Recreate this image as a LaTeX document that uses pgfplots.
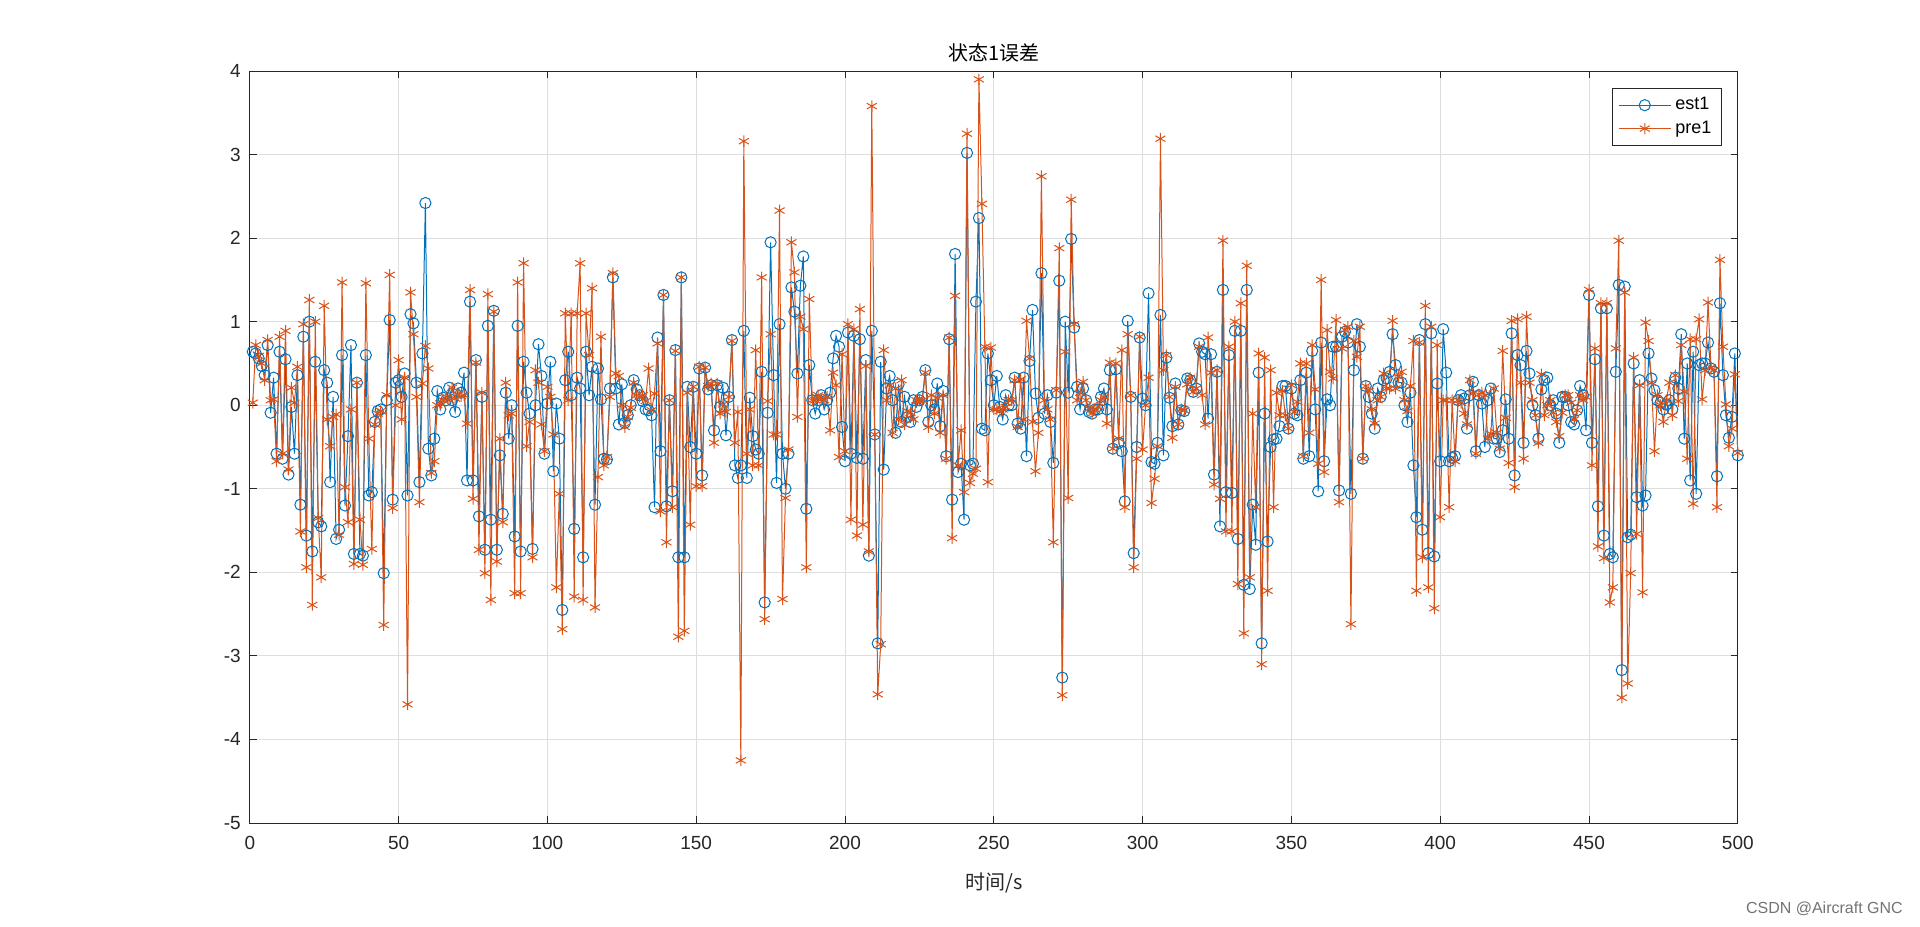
\documentclass[border=0pt]{standalone}
\usepackage{pgfplots}
\usepackage{pgfplotstable}
\pgfplotsset{compat=1.18}
\usepackage{fontspec}
\setmainfont{Liberation Sans}
\newfontfamily\cjk{Noto Sans CJK SC}
\definecolor{mblue}{rgb}{0,0.447,0.741}
\definecolor{morange}{rgb}{0.85,0.325,0.098}
\definecolor{maxis}{rgb}{0.15,0.15,0.15}
\pgfplotstableread{
x p e
1 0.03 0.64
2 0.72 0.62
3 0.59 0.56
4 0.50 0.47
5 0.30 0.36
6 0.78 0.72
7 0.06 -0.09
8 0.07 0.33
9 -0.67 -0.58
10 0.82 0.64
11 -0.58 -0.64
12 0.89 0.55
13 -0.77 -0.83
14 0.21 -0.02
15 0.03 -0.58
16 0.46 0.36
17 -1.51 -1.19
18 0.97 0.82
19 -1.94 -1.56
20 1.26 1.00
21 -2.39 -1.75
22 1.00 0.52
23 -1.35 -1.40
24 -2.06 -1.45
25 1.19 0.42
26 -0.17 0.27
27 -0.49 -0.92
28 -0.14 0.10
29 -0.11 -1.60
30 -1.55 -1.49
31 1.47 0.60
32 -0.98 -1.20
33 -1.40 -0.37
34 -0.05 0.72
35 -1.90 -1.78
36 0.27 0.27
37 -1.37 -1.78
38 -1.91 -1.80
39 1.46 0.60
40 -0.40 -1.08
41 -1.72 -1.04
42 -0.23 -0.20
43 -0.10 -0.07
44 -0.07 -0.05
45 -2.63 -2.01
46 0.12 0.06
47 1.56 1.02
48 -1.23 -1.13
49 0.00 0.27
50 0.54 0.30
51 -0.17 0.10
52 0.33 0.38
53 -3.58 -1.08
54 1.35 1.09
55 0.85 0.98
56 0.10 0.27
57 -1.16 -0.92
58 0.26 0.62
59 0.71 2.42
60 0.44 -0.52
61 -0.81 -0.84
62 -0.67 -0.40
63 0.00 0.17
64 0.02 -0.05
65 0.06 0.09
66 0.10 0.06
67 0.06 0.21
68 0.21 0.06
69 0.08 -0.08
70 0.13 0.20
71 0.11 0.15
72 0.12 0.39
73 -0.22 -0.90
74 1.38 1.24
75 -1.12 -0.90
76 0.51 0.54
77 -1.73 -1.33
78 0.15 0.10
79 -2.01 -1.73
80 1.33 0.95
81 -2.33 -1.37
82 1.12 1.13
83 -1.87 -1.73
84 -0.40 -0.60
85 -1.40 -1.30
86 0.27 0.15
87 -0.12 -0.40
88 -0.10 0.00
89 -2.25 -1.57
90 1.47 0.95
91 -2.25 -1.75
92 1.70 0.52
93 -0.49 0.15
94 -0.20 -0.10
95 -1.82 -1.72
96 0.42 0.00
97 0.27 0.73
98 -0.23 0.35
99 -0.55 -0.58
100 0.22 0.02
101 0.10 0.52
102 -0.35 -0.79
103 -2.18 0.02
104 -1.06 -0.40
105 -2.68 -2.45
106 1.10 0.30
107 0.06 0.64
108 1.10 0.12
109 -2.29 -1.48
110 1.10 0.33
111 1.70 0.20
112 -2.33 -1.82
113 1.10 0.64
114 0.60 0.12
115 1.40 0.46
116 -2.42 -1.19
117 -0.86 0.44
118 0.82 0.07
119 -0.72 -0.64
120 -0.62 -0.65
121 0.10 0.20
122 1.58 1.53
123 0.38 0.20
124 0.35 -0.23
125 0.00 0.25
126 -0.26 -0.21
127 -0.14 -0.12
128 -0.03 0.00
129 0.27 0.30
130 0.12 0.19
131 0.10 0.12
132 0.12 0.05
133 0.05 -0.05
134 0.44 -0.06
135 -0.06 -0.12
136 0.14 -1.22
137 0.74 0.81
138 -1.27 -0.55
139 1.32 1.32
140 -1.64 -1.21
141 0.06 0.06
142 -1.22 -1.03
143 0.65 0.66
144 -2.77 -1.82
145 1.53 1.53
146 -2.70 -1.82
147 0.15 0.22
148 -1.43 -0.50
149 0.22 0.22
150 -0.97 -0.58
151 0.46 0.44
152 -0.97 -0.84
153 0.45 0.45
154 0.23 0.19
155 0.26 0.24
156 -0.45 -0.30
157 0.26 0.24
158 -0.10 -0.02
159 0.01 0.21
160 -0.08 -0.36
161 0.10 0.10
162 0.77 0.78
163 -0.45 -0.72
164 -0.08 -0.87
165 -4.25 -0.72
166 3.16 0.89
167 -0.58 -0.87
168 -0.05 0.09
169 -0.72 -0.37
170 0.66 -0.53
171 -0.72 -0.58
172 1.53 0.40
173 -2.56 -2.36
174 0.05 -0.09
175 0.85 1.95
176 -0.35 0.36
177 -0.35 -0.93
178 2.33 0.97
179 -2.32 -0.58
180 -1.11 -1.00
181 -0.53 -0.58
182 1.95 1.41
183 1.59 1.12
184 -0.14 0.38
185 1.06 1.43
186 0.91 1.78
187 -1.94 -1.24
188 1.27 0.48
189 0.06 0.06
190 0.06 -0.10
191 0.12 0.06
192 0.07 0.12
193 0.06 -0.05
194 0.10 0.06
195 -0.30 0.15
196 0.39 0.56
197 0.24 0.83
198 -0.62 0.70
199 0.61 -0.26
200 -0.55 -0.67
201 0.97 0.87
202 -1.37 -0.58
203 0.91 0.83
204 -1.56 -0.63
205 1.15 0.79
206 -1.43 -0.64
207 0.47 0.54
208 -1.75 -1.80
209 3.58 0.89
210 -0.35 -0.35
211 -3.46 -2.85
212 -2.86 0.52
213 0.66 -0.77
214 0.06 0.20
215 0.24 0.35
216 -0.33 0.06
217 0.20 -0.33
218 -0.17 0.25
219 0.30 -0.20
220 -0.23 0.10
221 -0.07 -0.14
222 -0.09 -0.20
223 -0.17 0.06
224 0.06 -0.02
225 0.06 0.06
226 0.06 0.10
227 0.39 0.42
228 -0.26 -0.20
229 0.12 0.00
230 -0.10 -0.05
231 0.09 0.26
232 -0.33 -0.25
233 0.12 0.17
234 -0.64 -0.61
235 0.81 0.79
236 -1.59 -1.13
237 1.31 1.81
238 -0.72 -0.80
239 -0.30 -0.70
240 -1.04 -1.37
241 3.25 3.02
242 -0.93 -0.72
243 -0.82 -0.70
244 -0.76 1.24
245 3.90 2.24
246 2.41 -0.28
247 0.70 -0.30
248 -0.92 0.62
249 0.69 0.30
250 -0.05 0.00
251 -0.05 0.35
252 -0.07 -0.02
253 -0.05 -0.17
254 -0.02 0.12
255 0.06 0.00
256 0.06 0.00
257 0.30 0.33
258 -0.26 -0.22
259 0.31 -0.28
260 -0.17 0.33
261 1.01 -0.61
262 0.56 0.53
263 -0.20 1.14
264 -0.79 0.14
265 -0.33 -0.15
266 2.74 1.58
267 0.06 -0.10
268 -0.05 0.12
269 -0.17 -0.20
270 -1.64 -0.69
271 0.18 0.15
272 1.88 1.49
273 -3.47 -3.26
274 0.64 1.00
275 -1.11 0.15
276 2.46 1.99
277 0.97 0.93
278 0.06 0.22
279 0.15 -0.05
280 0.28 0.20
281 0.06 0.06
282 -0.04 -0.08
283 -0.10 -0.10
284 -0.05 -0.05
285 -0.02 -0.05
286 0.06 0.10
287 0.10 0.20
288 -0.22 -0.05
289 0.51 0.42
290 -0.52 -0.52
291 0.50 0.43
292 -0.40 -0.45
293 0.66 -0.55
294 -1.22 -1.15
295 0.85 1.01
296 0.12 0.10
297 -1.94 -1.77
298 -0.64 -0.50
299 0.82 0.81
300 -0.53 0.08
301 0.00 0.00
302 0.33 1.34
303 -1.17 -0.68
304 -0.88 -0.70
305 -0.49 -0.45
306 3.19 1.08
307 0.42 -0.60
308 0.60 0.57
309 0.10 0.09
310 -0.39 -0.25
311 0.22 0.26
312 -0.23 -0.23
313 -0.05 -0.06
314 -0.06 -0.07
315 0.25 0.32
316 0.33 0.30
317 0.16 0.16
318 0.20 0.20
319 0.70 0.74
320 0.12 0.64
321 -0.23 0.61
322 0.81 -0.16
323 0.39 0.61
324 -0.95 -0.83
325 0.42 0.40
326 -1.12 -1.45
327 1.97 1.38
328 -1.51 -1.04
329 0.70 0.60
330 -1.51 -1.05
331 1.00 0.89
332 -2.14 -1.60
333 1.22 0.89
334 -2.73 -2.15
335 1.67 1.38
336 -2.06 -2.20
337 -0.10 -1.19
338 -1.22 -1.67
339 0.62 0.39
340 -3.10 -2.85
341 0.57 -0.10
342 -2.22 -1.63
343 0.42 -0.50
344 -1.22 -0.41
345 0.15 -0.40
346 -0.12 -0.25
347 0.17 0.23
348 -0.12 0.23
349 -0.28 -0.28
350 0.24 0.20
351 -0.08 -0.10
352 0.04 -0.12
353 0.50 0.30
354 -0.61 -0.64
355 0.50 0.39
356 -0.33 -0.61
357 0.72 0.65
358 0.19 -0.05
359 -0.70 -1.03
360 1.50 0.75
361 -0.80 -0.67
362 0.90 0.07
363 0.40 0.00
364 0.32 0.70
365 1.02 0.70
366 -1.16 -1.02
367 0.68 0.82
368 0.90 0.88
369 0.94 0.75
370 -2.62 -1.06
371 0.77 0.42
372 0.58 0.97
373 0.94 0.70
374 -0.64 -0.64
375 0.23 0.23
376 0.17 0.10
377 -0.05 -0.10
378 -0.22 -0.28
379 0.06 0.20
380 0.10 0.10
381 0.38 0.30
382 0.20 0.32
383 0.20 0.40
384 1.01 0.85
385 0.20 0.48
386 0.34 0.27
387 0.40 0.27
388 0.06 0.00
389 -0.07 -0.20
390 0.23 0.15
391 0.77 -0.72
392 -2.22 -1.34
393 0.75 0.78
394 -1.82 -1.49
395 1.19 0.97
396 -2.18 -1.77
397 0.94 0.86
398 -2.43 -1.81
399 0.72 0.26
400 -1.34 -0.67
401 0.06 0.91
402 0.06 0.39
403 -1.22 -0.67
404 0.06 -0.63
405 -0.67 -0.61
406 0.06 0.06
407 0.03 0.12
408 -0.10 0.08
409 -0.23 -0.28
410 0.30 0.12
411 0.14 0.28
412 -0.58 -0.55
413 0.13 0.12
414 0.15 0.02
415 0.12 -0.50
416 -0.40 0.06
417 -0.34 0.20
418 0.20 -0.40
419 -0.33 -0.40
420 -0.52 -0.56
421 0.65 -0.30
422 -0.15 0.07
423 -0.69 -0.40
424 1.01 0.86
425 -0.98 -0.84
426 1.03 0.60
427 0.27 0.48
428 -0.64 -0.45
429 1.06 0.65
430 0.27 0.38
431 0.06 0.00
432 -0.12 -0.12
433 -0.45 -0.40
434 0.37 0.19
435 -0.12 0.30
436 0.00 0.33
437 0.06 0.00
438 -0.09 0.06
439 -0.20 -0.10
440 -0.37 -0.45
441 -0.09 0.10
442 0.12 0.10
443 0.12 0.00
444 0.03 -0.20
445 -0.17 -0.23
446 -0.06 -0.06
447 0.12 0.23
448 0.06 0.12
449 0.10 -0.30
450 1.38 1.32
451 -0.72 -0.45
452 0.68 0.55
453 -1.69 -1.21
454 1.22 1.16
455 -1.83 -1.56
456 1.22 1.16
457 -2.36 -1.78
458 -2.18 -1.82
459 0.68 0.40
460 1.97 1.44
461 -3.50 -3.17
462 1.35 1.42
463 -3.33 -1.58
464 -2.01 -1.55
465 0.57 0.50
466 -1.54 -1.10
467 0.24 0.30
468 -2.24 -1.20
469 0.99 -1.08
470 0.77 0.62
471 0.27 0.32
472 -0.55 0.18
473 0.12 0.06
474 0.00 0.03
475 -0.20 -0.05
476 0.06 0.01
477 0.27 0.06
478 -0.12 -0.05
479 0.36 0.33
480 0.05 0.20
481 0.72 0.85
482 0.16 -0.40
483 -0.64 0.50
484 0.79 -0.90
485 -1.18 0.64
486 0.79 -1.06
487 1.03 0.48
488 0.07 0.50
489 0.42 0.50
490 1.23 0.75
491 0.45 0.44
492 0.42 0.40
493 -1.22 -0.85
494 1.74 1.22
495 0.70 0.36
496 0.01 -0.12
497 -0.49 -0.39
498 -0.28 -0.14
499 0.37 0.62
500 -0.57 -0.60
}\data
\begin{document}
\begin{tikzpicture}
\useasboundingbox (-124.9pt,-51.5pt) rectangle (835.1pt,411.5pt);
\begin{axis}[
  at={(0,0)}, anchor=south west,
  scale only axis, width=744pt, height=376pt,
  xmin=0, xmax=500, ymin=-5, ymax=4,
  xtick={0,50,...,500}, ytick={-5,-4,...,4},
  tick align=inside, major tick length=3.5pt,
  axis line style={maxis, line width=0.5pt},
  tick style={maxis, line width=0.5pt},
  grid=major, major grid style={black!13, line width=0.5pt},
  ticklabel style={font=\fontsize{9.5}{11}\selectfont, text=maxis},
  /pgf/number format/assume math mode=true,
  yticklabel style={xshift=-1pt},
  xticklabel style={yshift=-3pt},
  title={\cjk 状态1误差},
  title style={font=\fontsize{10}{12}\selectfont, text=black, yshift=-5pt},
  xlabel={\cjk 时间/s},
  xlabel style={font=\fontsize{10}{12}\selectfont, text=maxis, yshift=-5pt},
  legend style={at={(1,1)}, anchor=north east, xshift=-8pt, yshift=-8.5pt,
    font=\fontsize{9}{11}\selectfont, draw=maxis, line width=0.5pt,
    row sep=0pt, inner xsep=3pt, inner ysep=2.5pt},
  legend cell align=left,
  legend image code/.code={
    \draw[mark repeat=2,mark phase=2,#1] plot coordinates {(0pt,0pt) (13pt,0pt) (26pt,0pt)};
  },
]
\addplot[mblue, line width=0.5pt, mark=o, mark size=2.8pt, mark options={line width=0.5pt}] table[x=x, y=e] {\data};
\addlegendentry{est1}
\addplot[morange, line width=0.5pt, mark=asterisk, mark size=2.9pt, mark options={line width=0.5pt}] table[x=x, y=p] {\data};
\addlegendentry{pre1}
\end{axis}
\node[anchor=east, text=black!55, font=\fontsize{8}{10}\selectfont] at (830pt,-43pt) {CSDN @Aircraft GNC};
\end{tikzpicture}
\end{document}
